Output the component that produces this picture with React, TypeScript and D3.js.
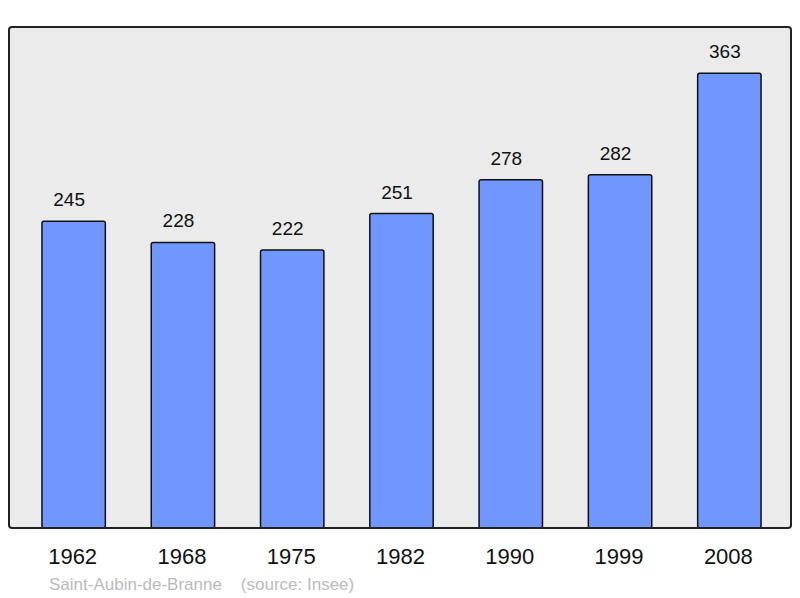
import React from "react";
import * as d3 from "d3";

const years = ["1962", "1968", "1975", "1982", "1990", "1999", "2008"];
const population = [245, 228, 222, 251, 278, 282, 363];
const footerName = "Saint-Aubin-de-Branne";
const footerSource = "(source: Insee)";

export default function App() {
  const W = 800, H = 598;
  const frame = { x: 9, y: 27, w: 782, h: 501 };
  const x = d3.scaleBand<string>().domain(years).range([19, 784]).paddingInner(0.42).paddingOuter(0.21);
  const y = d3.scaleLinear().domain([0, 400]).range([528, 27]);
  const font = "'Liberation Sans', Arial, sans-serif";
  return (
    <svg width={W} height={H} style={{ position: "absolute", left: 0, top: 0 }}>
      <rect x={0} y={0} width={W} height={H} fill="#ffffff" />
      <rect x={frame.x} y={frame.y} width={frame.w} height={frame.h} rx={3} fill="#ebebeb" stroke="none" />
      {years.map((yr, i) => (
        <g key={yr}>
          <rect
            x={x(yr)}
            y={y(population[i])}
            width={x.bandwidth()}
            height={y(0) - y(population[i])}
            rx={2}
            fill="#7096ff"
            stroke="#111"
            strokeWidth={1.5}
          />
          <text x={(x(yr) ?? 0) + x.bandwidth() / 2 - 4.5} y={y(population[i]) - 15} textAnchor="middle" fontFamily={font} fontSize={19} fill="#111">
            {population[i]}
          </text>
          <text x={(x(yr) ?? 0) + x.bandwidth() / 2 - 1} y={564} textAnchor="middle" fontFamily={font} fontSize={22} fill="#111">
            {yr}
          </text>
        </g>
      ))}
      <rect x={frame.x} y={frame.y} width={frame.w} height={frame.h} rx={3} fill="none" stroke="#222" strokeWidth={2} />
      <text x={49} y={590} fontFamily={font} fontSize={17} fill="#bbbbbb" xmlSpace="preserve">
        {footerName + "    " + footerSource}
      </text>
    </svg>
  );
}
